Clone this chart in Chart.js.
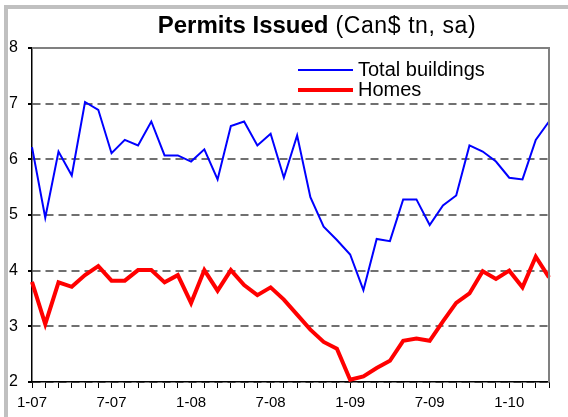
<!DOCTYPE html>
<html>
<head>
<meta charset="utf-8">
<script src="https://cdn.jsdelivr.net/npm/chart.js@4/dist/chart.umd.min.js"></script>
<style>
  html, body { margin: 0; padding: 0; background: #fff; }
  #wrap { width: 568px; height: 417px; position: relative; }
</style>
</head>
<body>
<div id="wrap"><canvas id="permitsChart" width="568" height="417"></canvas></div>
<script>
const months = ['1-07','2-07','3-07','4-07','5-07','6-07','7-07','8-07','9-07','10-07','11-07','12-07',
                '1-08','2-08','3-08','4-08','5-08','6-08','7-08','8-08','9-08','10-08','11-08','12-08',
                '1-09','2-09','3-09','4-09','5-09','6-09','7-09','8-09','9-09','10-09','11-09','12-09',
                '1-10','2-10','3-10','4-10'];

const totalBuildings = [6.22, 4.95, 6.14, 5.71, 7.03, 6.89, 6.11, 6.35, 6.25, 6.68, 6.07, 6.07,
                        5.96, 6.18, 5.64, 6.60, 6.68, 6.25, 6.46, 5.67, 6.43, 5.32, 4.79, 4.55,
                        4.29, 3.65, 4.57, 4.53, 5.28, 5.28, 4.82, 5.17, 5.35, 6.25, 6.14, 5.96,
                        5.67, 5.64, 6.35, 6.68];

const homes = [3.80, 3.04, 3.79, 3.71, 3.92, 4.08, 3.82, 3.82, 4.01, 4.01, 3.79, 3.92,
               3.42, 4.01, 3.64, 4.01, 3.74, 3.56, 3.70, 3.48, 3.21, 2.94, 2.72, 2.60,
               2.04, 2.10, 2.25, 2.38, 2.74, 2.78, 2.74, 3.09, 3.42, 3.59, 3.99, 3.85,
               4.00, 3.70, 4.25, 3.88];

const FONT = '"Liberation Sans", Arial, sans-serif';

// frame, title, top/right plot border and the inset legend
const decorations = {
    id: 'decorations',
    beforeDraw(chart) {
        const ctx = chart.ctx;
        ctx.save();
        ctx.fillStyle = '#fff';
        ctx.fillRect(0, 0, chart.width, chart.height);
        ctx.strokeStyle = '#c0c0c0';
        ctx.lineWidth = 4;
        ctx.strokeRect(6, 7, chart.width + 20, chart.height + 20);
        ctx.restore();
    },
    afterDraw(chart) {
        const ctx = chart.ctx;
        const a = chart.chartArea;
        ctx.save();
        // top and right border
        ctx.strokeStyle = '#808080';
        ctx.lineWidth = 2;
        ctx.beginPath();
        ctx.moveTo(a.left, a.top);
        ctx.lineTo(a.right, a.top);
        ctx.lineTo(a.right, a.bottom);
        ctx.stroke();

        // title, bold part then plain part
        ctx.fillStyle = '#000';
        ctx.textBaseline = 'alphabetic';
        ctx.textAlign = 'left';
        const bold = 'bold 24px ' + FONT;
        const norm = '23px ' + FONT;
        ctx.font = bold;
        ctx.letterSpacing = '0px';
        const w1 = ctx.measureText('Permits Issued').width;
        ctx.font = norm;
        ctx.letterSpacing = '0.6px';
        const w2 = ctx.measureText(' (Can$ tn, sa)').width;
        let x = 317 - (w1 + w2) / 2;
        ctx.font = bold;
        ctx.letterSpacing = '0px';
        ctx.fillText('Permits Issued', x, 33);
        ctx.font = norm;
        ctx.letterSpacing = '0.6px';
        ctx.fillText(' (Can$ tn, sa)', x + w1, 33);
        ctx.letterSpacing = '0px';

        // legend
        ctx.font = '20px ' + FONT;
        ctx.textBaseline = 'middle';
        chart.data.datasets.forEach((ds, i) => {
            const y = 70 + i * 20;
            ctx.strokeStyle = ds.borderColor;
            ctx.lineWidth = ds.borderWidth;
            ctx.beginPath();
            ctx.moveTo(298, y);
            ctx.lineTo(353, y);
            ctx.stroke();
            ctx.fillStyle = '#000';
            ctx.fillText(ds.label, 358, y);
        });
        ctx.restore();
    }
};

new Chart(document.getElementById('permitsChart').getContext('2d'), {
    type: 'line',
    data: {
        labels: months,
        datasets: [{
            label: 'Total buildings',
            data: totalBuildings,
            borderColor: '#0000ff',
            borderWidth: 2,
            pointRadius: 0,
            tension: 0,
            fill: false
        }, {
            label: 'Homes',
            data: homes,
            borderColor: '#ff0000',
            borderWidth: 4,
            pointRadius: 0,
            tension: 0,
            fill: false
        }]
    },
    options: {
        responsive: false,
        animation: false,
        layout: {
            padding: { left: 0, top: 48, right: 19, bottom: 0 }
        },
        plugins: {
            legend: { display: false },
            title: { display: false },
            tooltip: { enabled: false }
        },
        scales: {
            x: {
                offset: false,
                afterFit: s => { s.height = 35; },
                border: { color: '#000', width: 1.5 },
                grid: {
                    drawOnChartArea: false,
                    drawTicks: true,
                    tickLength: 6,
                    tickColor: '#000'
                },
                ticks: {
                    autoSkip: false,
                    maxRotation: 0,
                    padding: 6,
                    color: '#000',
                    font: { family: FONT, size: 15 },
                    callback: function (val, idx) {
                        return idx % 6 === 0 ? months[idx] : '';
                    }
                }
            },
            y: {
                min: 2,
                max: 8,
                afterFit: s => { s.width = 32; },
                border: { color: '#000', width: 1.5, dash: [8, 5] },
                grid: {
                    color: '#707070',
                    lineWidth: 2,
                    tickBorderDash: [],
                    tickColor: '#000',
                    tickLength: 4
                },
                ticks: {
                    stepSize: 1,
                    padding: 10,
                    color: '#000',
                    font: { family: FONT, size: 16 }
                }
            }
        }
    },
    plugins: [decorations]
});
</script>
</body>
</html>
